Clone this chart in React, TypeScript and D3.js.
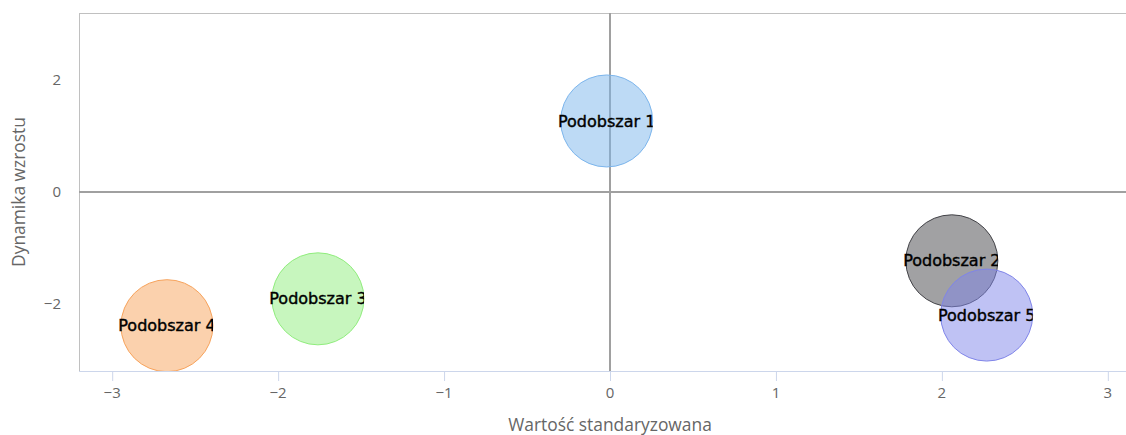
import React from "react";
import * as d3 from "d3";

const names = ["Podobszar 1", "Podobszar 2", "Podobszar 3", "Podobszar 4", "Podobszar 5"];
const xValues = [-0.02, 2.06, -1.76, -2.67, 2.27];
const yValues = [1.27, -1.23, -1.91, -2.39, -2.2];
const zValues = [1, 1, 1, 1, 1];
const colors = ["#7cb5ec", "#434348", "#90ed7d", "#f7a35c", "#8085e9"];
const xTicks = [-3, -2, -1, 0, 1, 2, 3];
const yTicks = [-2, 0, 2];

const W = 1126;
const H = 435;
const plot = { left: 79, top: 13, right: 1141, bottom: 371 };
const labelFont = "'Open Sans', sans-serif";

export default function App() {
  const x = d3.scaleLinear().domain([-3.2, 3.2]).range([plot.left, plot.right]);
  const y = d3.scaleLinear().domain([-3.2, 3.2]).range([plot.bottom, plot.top]);
  const r = d3.scaleSqrt().domain([0, d3.max(zValues) as number]).range([0, 46]);
  const fmt = (v: number) => (v < 0 ? "\u2212" + Math.abs(v) : String(v));

  return (
    <svg
      width={W}
      height={H}
      style={{ position: "absolute", left: 0, top: 0, background: "#fff" }}
    >
      <defs>
        <clipPath id="plot-clip">
          <rect x={plot.left} y={plot.top} width={plot.right - plot.left} height={plot.bottom - plot.top} />
        </clipPath>
        {names.map((n, i) => (
          <clipPath id={`lbl-${i}`} key={n}>
            <rect
              x={0}
              y={plot.top}
              width={x(xValues[i]) + r(zValues[i])}
              height={plot.bottom - plot.top}
            />
          </clipPath>
        ))}
      </defs>

      {/* plot border */}
      <line x1={plot.left} x2={W} y1={plot.top + 0.5} y2={plot.top + 0.5} stroke="#c0c0c0" />
      <line x1={plot.left + 0.5} x2={plot.left + 0.5} y1={plot.top} y2={plot.bottom} stroke="#c0c0c0" />

      {/* zero lines */}
      <line x1={x(0)} x2={x(0)} y1={plot.top} y2={plot.bottom} stroke="#a0a0a0" strokeWidth={2} />
      <line x1={plot.left} x2={plot.right} y1={y(0)} y2={y(0)} stroke="#a0a0a0" strokeWidth={2} />

      {/* bubbles */}
      <g clipPath="url(#plot-clip)">
        {names.map((n, i) => (
          <circle
            key={n}
            cx={x(xValues[i])}
            cy={y(yValues[i])}
            r={r(zValues[i])}
            fill={colors[i]}
            fillOpacity={0.5}
            stroke={colors[i]}
            strokeWidth={1}
          />
        ))}
      </g>

      {/* labels */}
      {names.map((n, i) => (
        <text
          key={n}
          x={x(xValues[i])}
          y={y(yValues[i])}
          dy="0.35em"
          textAnchor="middle"
          fontFamily="'DejaVu Sans', sans-serif"
          fontSize={16}
          fill="#000"
          stroke="#000"
          strokeWidth={0.4}
          clipPath={`url(#lbl-${i})`}
        >
          {n}
        </text>
      ))}

      {/* x axis */}
      <line x1={plot.left} x2={W} y1={plot.bottom + 0.5} y2={plot.bottom + 0.5} stroke="#ccd6eb" />
      {xTicks.map((t) => (
        <g key={t}>
          <line x1={x(t) + 0.5} x2={x(t) + 0.5} y1={plot.bottom} y2={plot.bottom + 10} stroke="#ccd6eb" />
          <text
            x={x(t)}
            y={plot.bottom + 27}
            textAnchor="middle"
            fontFamily={labelFont}
            fontSize={15}
            fill="#666"
          >
            {fmt(t)}
          </text>
        </g>
      ))}
      <text
        x={x(0)}
        y={431}
        textAnchor="middle"
        fontFamily={labelFont}
        fontSize={17.4}
        fill="#666"
      >
        Wartość standaryzowana
      </text>

      {/* y axis */}
      {yTicks.map((t) => (
        <text
          key={t}
          x={61}
          y={y(t)}
          dy="0.35em"
          textAnchor="end"
          fontFamily={labelFont}
          fontSize={15}
          fill="#666"
        >
          {fmt(t)}
        </text>
      ))}
      <text
        transform={`translate(25, ${y(0)}) rotate(-90)`}
        textAnchor="middle"
        fontFamily={labelFont}
        fontSize={17.4}
        fill="#666"
      >
        Dynamika wzrostu
      </text>
    </svg>
  );
}
